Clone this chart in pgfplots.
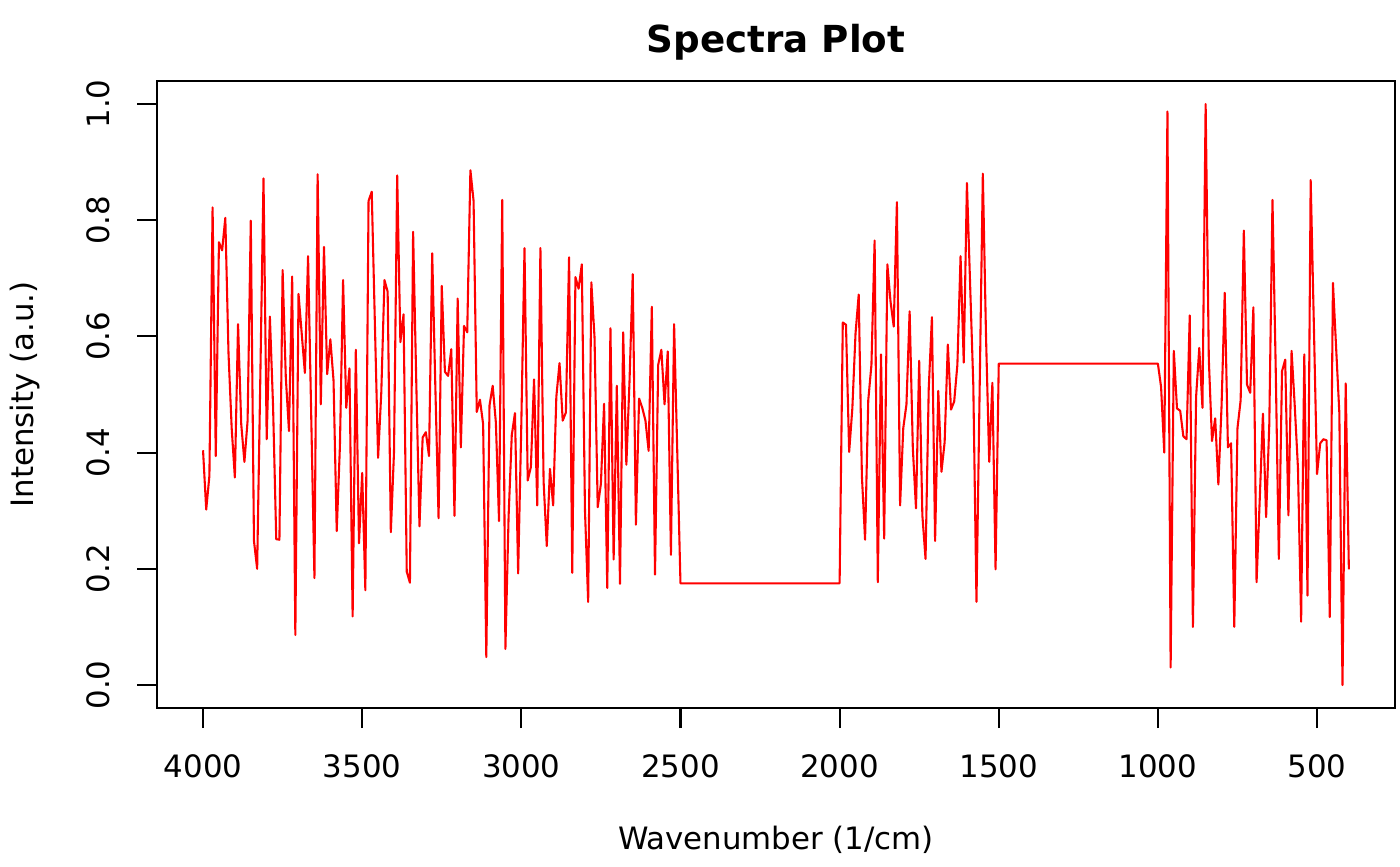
\documentclass[border=0pt]{standalone}
\usepackage{fontspec}
\setmainfont{DejaVu Sans}
\usepackage{pgfplots}
\pgfplotsset{compat=1.18}
\usepackage{pgfplotstable}

\pgfplotstableread{
w v
4000 0.404
3990 0.302
3980 0.360
3970 0.822
3960 0.394
3950 0.762
3940 0.748
3930 0.804
3920 0.571
3910 0.442
3900 0.357
3890 0.621
3880 0.449
3870 0.384
3860 0.455
3850 0.799
3840 0.248
3830 0.200
3820 0.530
3810 0.872
3800 0.423
3790 0.634
3780 0.480
3770 0.251
3760 0.250
3750 0.714
3740 0.530
3730 0.437
3720 0.703
3710 0.086
3700 0.673
3690 0.605
3680 0.537
3670 0.738
3660 0.460
3650 0.184
3640 0.879
3630 0.483
3620 0.754
3610 0.535
3600 0.595
3590 0.524
3580 0.265
3570 0.410
3560 0.697
3550 0.477
3540 0.545
3530 0.118
3520 0.577
3510 0.244
3500 0.365
3490 0.163
3480 0.833
3470 0.849
3460 0.620
3450 0.391
3440 0.503
3430 0.697
3420 0.677
3410 0.263
3400 0.401
3390 0.877
3380 0.590
3370 0.638
3360 0.195
3350 0.176
3340 0.780
3330 0.520
3320 0.273
3310 0.426
3300 0.435
3290 0.394
3280 0.743
3270 0.510
3260 0.287
3250 0.687
3240 0.539
3230 0.532
3220 0.578
3210 0.291
3200 0.665
3190 0.409
3180 0.618
3170 0.607
3160 0.886
3150 0.833
3140 0.470
3130 0.491
3120 0.449
3110 0.048
3100 0.481
3090 0.515
3080 0.452
3070 0.282
3060 0.835
3050 0.062
3040 0.290
3030 0.430
3020 0.468
3010 0.192
3000 0.450
2990 0.752
2980 0.352
2970 0.375
2960 0.526
2950 0.309
2940 0.752
2930 0.350
2920 0.239
2910 0.372
2900 0.309
2890 0.496
2880 0.554
2870 0.455
2860 0.469
2850 0.736
2840 0.193
2830 0.702
2820 0.682
2810 0.724
2800 0.300
2790 0.143
2780 0.693
2770 0.598
2760 0.306
2750 0.346
2740 0.484
2730 0.167
2720 0.614
2710 0.216
2700 0.515
2690 0.174
2680 0.607
2670 0.379
2660 0.524
2650 0.707
2640 0.276
2630 0.493
2620 0.477
2610 0.455
2600 0.403
2590 0.651
2580 0.190
2570 0.551
2560 0.577
2550 0.483
2540 0.574
2530 0.224
2520 0.621
2510 0.400
2500 0.175
2000 0.175
1990 0.624
1980 0.620
1970 0.401
1960 0.476
1950 0.605
1940 0.672
1930 0.360
1920 0.250
1910 0.490
1900 0.551
1890 0.765
1880 0.177
1870 0.569
1860 0.252
1850 0.724
1840 0.660
1830 0.617
1820 0.831
1810 0.309
1800 0.442
1790 0.483
1780 0.643
1770 0.408
1760 0.304
1750 0.558
1740 0.292
1730 0.217
1720 0.510
1710 0.633
1700 0.248
1690 0.506
1680 0.367
1670 0.418
1660 0.586
1650 0.474
1640 0.488
1630 0.551
1620 0.738
1610 0.555
1600 0.864
1590 0.690
1580 0.517
1570 0.143
1560 0.510
1550 0.880
1540 0.600
1530 0.384
1520 0.520
1510 0.199
1500 0.553
1000 0.553
990 0.513
980 0.400
970 0.987
960 0.030
950 0.575
940 0.476
930 0.472
920 0.428
910 0.423
900 0.636
890 0.100
880 0.496
870 0.580
860 0.477
850 1.000
840 0.560
830 0.420
820 0.459
810 0.345
800 0.480
790 0.675
780 0.409
770 0.416
760 0.100
750 0.442
740 0.490
730 0.782
720 0.517
710 0.503
700 0.650
690 0.177
680 0.320
670 0.467
660 0.289
650 0.449
640 0.835
630 0.550
620 0.217
610 0.540
600 0.560
590 0.292
580 0.575
570 0.480
560 0.374
550 0.109
540 0.569
530 0.154
520 0.869
510 0.620
500 0.363
490 0.416
480 0.423
470 0.421
460 0.117
450 0.692
440 0.580
430 0.469
420 0.000
410 0.519
400 0.199
}\spectra

\begin{document}
\begin{tikzpicture}
\useasboundingbox (0pt,0pt) rectangle (504pt,311.76pt);
\begin{axis}[
  at={(56.6pt,56.8pt)}, anchor=south west,
  scale only axis, width=445.5pt, height=225.9pt,
  x dir=reverse,
  xmin=256, xmax=4144, ymin=-0.04, ymax=1.04,
  xtick={500,1000,1500,2000,2500,3000,3500,4000},
  ytick={0,0.2,0.4,0.6,0.8,1},
  yticklabels={0.0,0.2,0.4,0.6,0.8,1.0},
  /pgf/number format/set thousands separator={},
  /pgf/number format/assume math mode=true,
  tick pos=left, tick align=outside,
  major tick length=7.2pt,
  every tick/.style={black, line width=0.75pt},
  axis line style={black, line width=0.75pt},
  ticklabel style={font=\fontsize{11.1}{13}\selectfont},
  xticklabel style={anchor=base, yshift=-17.7pt},
  yticklabel style={anchor=base, xshift=-10pt, rotate=90},
  label style={font=\fontsize{11.1}{13}\selectfont},
  xlabel={Wavenumber (1/cm)},
  xlabel style={at={([yshift=-51pt]axis description cs:0.5,0)}, anchor=base},
  ylabel={Intensity (a.u.)},
  ylabel style={at={([xshift=-44.6pt]axis description cs:0,0.5)}, anchor=base},
  title={Spectra Plot},
  title style={at={([yshift=4.1pt]axis description cs:0.5,1)}, anchor=base, font=\bfseries\fontsize{13.4}{16}\selectfont},
  clip=true,
]
\addplot[red, line width=0.75pt, line join=round] table[x=w, y=v] {\spectra};
\end{axis}
\end{tikzpicture}
\end{document}
